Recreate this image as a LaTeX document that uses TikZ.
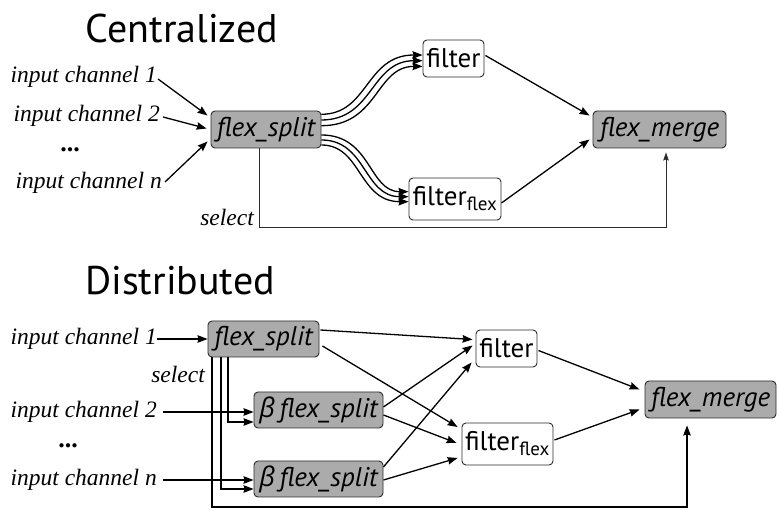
\documentclass[tikz,border=0pt]{standalone}
\usepackage{fontspec}
\setmainfont{Liberation Serif}
\setsansfont{PT Sans}
\newfontfamily\greekfont{Open Sans}
\usetikzlibrary{arrows.meta,calc}

\definecolor{boxgray}{RGB}{171,171,171}
\definecolor{edgegray}{RGB}{45,45,45}

\tikzset{
  proc/.style={draw=edgegray, line width=0.9pt, rounded corners=4pt,
    inner sep=0pt, font=\sffamily\itshape\fontsize{27}{32}\selectfont},
  graybox/.style={proc, fill=boxgray},
  whitebox/.style={proc, fill=white, font=\sffamily\fontsize{27}{32}\selectfont},
  inlabel/.style={anchor=east, inner sep=0pt, font=\itshape\fontsize{23.5}{28}\selectfont},
  sellabel/.style={anchor=east, inner sep=0pt, font=\itshape\fontsize{23.5}{28}\selectfont},
  title/.style={inner sep=0pt, font=\sffamily\fontsize{40}{46}\selectfont},
  dots/.style={inner sep=0pt, font=\bfseries\fontsize{26}{30}\selectfont},
  flow/.style={line width=1.3pt, -{Stealth[length=10pt,width=7.5pt,inset=1pt]}},
  thinflow/.style={line width=0.9pt, draw=edgegray, -{Stealth[length=8pt,width=5.5pt,inset=1pt]}},
}

\newcommand{\flexsub}{\textsubscript{\fontsize{19}{21}\selectfont flex}}

\begin{document}
\begin{tikzpicture}[x=1pt, y=-1pt]
  \useasboundingbox[fill=white] (0,0) rectangle (777,510);

  % ---------------- Centralized ----------------
  \node[title] (ctitle) at (182,29) {Centralized};

  \node[graybox, minimum width=110, minimum height=37] (cs) at (266,129.5) {flex\_split};
  \node[whitebox, minimum width=61, minimum height=37] (cf) at (453.5,58.5) {filter};
  \node[whitebox, minimum width=92, minimum height=42] (cff) at (455,199) {filter\flexsub};
  \node[graybox, minimum width=133, minimum height=37] (cm) at (659.5,129.5) {flex\_merge};

  \node[inlabel] (ci1) at (157,77) {input channel 1};
  \node[inlabel] (ci2) at (160,116) {input channel 2};
  \node[dots] (cdots) at (70,150) {...};
  \node[inlabel] (cin) at (162,183) {input channel n};
  \node[sellabel] (csel) at (254,217) {select};

  \draw[flow] (ci1.east) ++(1,2) -- ($(cs.west)+(-3,-14)$);
  \draw[flow] (ci2.east) ++(3,1) -- ($(cs.west)+(-4,-1)$);
  \draw[flow] (cin.east) ++(3,-1) -- ($(cs.west)+(-3,12)$);

  % bundles of three channels towards the two filters
  \foreach \k/\s in {0/-5,1/0,2/5} {
    \draw[flow] ($(cs.east)+(0,-15.2+5.7*\k)$)
      .. controls ($(cs.east)+(52+\s,-15.2+5.7*\k)$)
      and ($(cf.west)+(-52+\s,-3.5+5.7*\k)$)
      .. ($(cf.west)+(0,-3.5+5.7*\k)$);
  }
  \foreach \k/\s in {0/5,1/0,2/-5} {
    \draw[flow] ($(cs.east)+(0,5.5+5*\k)$)
      .. controls ($(cs.east)+(45+\s,5.5+5*\k)$)
      and ($(cff.west)+(-45+\s,-7.3+5*\k)$)
      .. ($(cff.west)+(0,-7.3+5*\k)$);
  }

  \draw[flow] ($(cf.east)+(1,-3)$) -- ($(cm.west)+(-3,-14)$);
  \draw[flow] ($(cff.east)+(0,4)$) -- ($(cm.west)+(-3,10)$);

  \coordinate (cselA) at (259,227);
  \draw[thinflow] (cs.south -| cselA) -- (cselA) -| ($(cm.south)+(6.5,4)$);

  % ---------------- Distributed ----------------
  \node[title] (dtitle) at (180,281) {Distributed};

  \node[graybox, minimum width=111, minimum height=36] (ds) at (263.5,339) {flex\_split};
  \node[graybox, minimum width=129, minimum height=36] (db1) at (318.5,410) {{\greekfont\itshape β}\,flex\_split};
  \node[graybox, minimum width=129, minimum height=36] (db2) at (318.5,479) {{\greekfont\itshape β}\,flex\_split};
  \node[whitebox, minimum width=61, minimum height=37] (df) at (506.5,348.5) {filter};
  \node[whitebox, minimum width=91, minimum height=42] (dff) at (507.5,444) {filter\flexsub};
  \node[graybox, minimum width=131, minimum height=37] (dm) at (710.5,399.5) {flex\_merge};

  \node[inlabel] (di1) at (157,339) {input channel 1};
  \node[inlabel] (di2) at (157,412) {input channel 2};
  \node[dots] (ddots) at (68,446) {...};
  \node[inlabel] (din) at (157,480) {input channel n};
  \node[sellabel] (dsel) at (205,374) {select};

  \draw[flow] (di1.east) -- (ds.west);
  \draw[flow] ($(di2.east)+(6,0)$) -- ($(db1.west)+(0,2)$);
  \draw[flow] ($(din.east)+(6,0)$) -- ($(db2.west)+(0,1)$);

  % select lines leaving the first splitter
  \coordinate (sA) at (228,422);
  \coordinate (sB) at (221,489);
  \coordinate (sC) at (212,507);
  \draw[flow] (ds.south -| sA) -- (sA) -- (sA -| db1.west);
  \draw[flow] (ds.south -| sB) -- (sB) -- (sB -| db2.west);
  \draw[flow] (ds.south -| sC) -- (sC) -| ($(dm.south)+(-23.5,7)$);

  \draw[flow] ($(ds.east)+(1,-9)$) -- ($(df.west)+(-3,-9)$);
  \draw[flow] ($(ds.east)+(3,7)$) -- ($(dff.west)+(-4,-17)$);
  \draw[flow] ($(db1.east)+(0,-3)$) -- ($(df.west)+(-3,-3)$);
  \draw[flow] ($(db1.east)+(0,5)$) -- ($(dff.west)+(-5,-1)$);
  \draw[flow] ($(db2.east)+(0,-12)$) -- ($(df.west)+(-4,14)$);
  \draw[flow] ($(db2.east)+(0,1)$) -- ($(dff.west)+(-4,14)$);

  \draw[flow] ($(df.east)+(1,2)$) -- ($(dm.west)+(-5,-10)$);
  \draw[flow] ($(dff.east)+(1,-4)$) -- ($(dm.west)+(-5,10)$);
\end{tikzpicture}
\end{document}
